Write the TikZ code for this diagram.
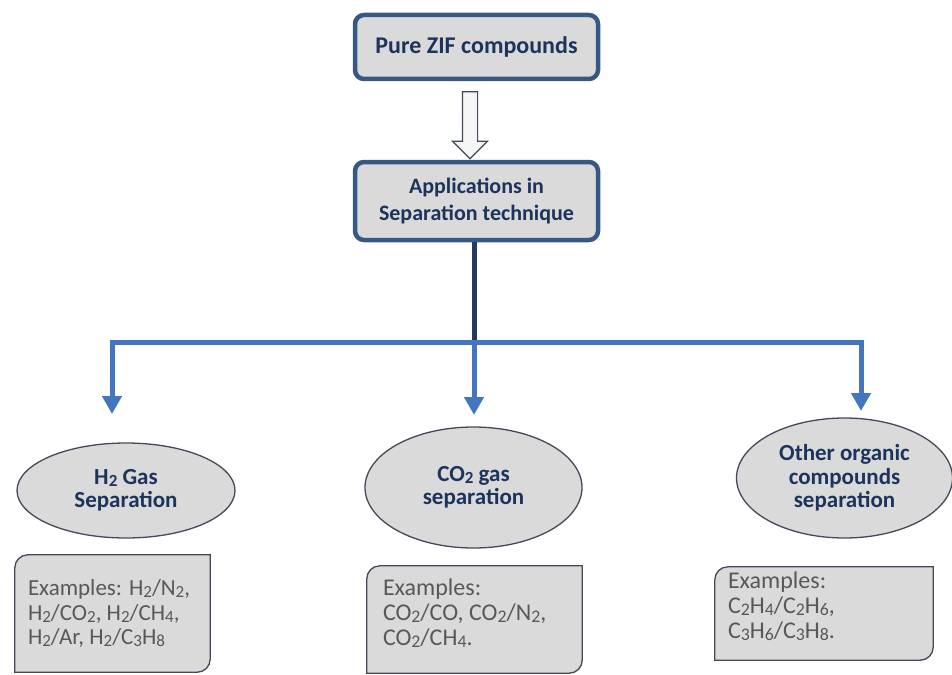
\documentclass[tikz,border=0pt]{standalone}
\usepackage{fontspec}
\setmainfont{Carlito}
\usetikzlibrary{arrows.meta,shapes.geometric,shapes.arrows}
\definecolor{boxline}{RGB}{56,88,132}
\definecolor{boxfill}{RGB}{218,218,218}
\definecolor{headtext}{RGB}{28,52,92}
\definecolor{linkblue}{RGB}{68,118,192}
\definecolor{stubnavy}{RGB}{34,58,96}
\definecolor{ovalline}{RGB}{66,74,88}
\definecolor{extext}{RGB}{88,88,88}
\newcommand{\ssb}[1]{\raisebox{-0.08em}{\scalebox{0.74}{#1}}}
\begin{document}
\begin{tikzpicture}[x=1pt,y=-1pt]
      \tikzset{mainbox/.style={draw=boxline, line width=4.5pt, fill=boxfill, rounded corners=9pt, align=center, text=headtext, font=\fontsize{22}{27}\selectfont\bfseries},
               oval/.style={ellipse, draw=ovalline, line width=1.3pt, fill=boxfill, align=center, text=headtext, inner sep=0pt, font=\fontsize{23}{23.5}\selectfont\bfseries},
               exframe/.style={draw=ovalline, line width=1.3pt, fill=boxfill},
               exlabel/.style={align=left, text=extext, inner sep=0pt, font=\fontsize{24}{25}\selectfont},
               link/.style={draw=linkblue, line width=5pt},
               linkarrow/.style={link, -{Triangle[width=19pt,length=18pt]}}}
      \useasboundingbox (0,0) rectangle (952,674);
%% Top of the chart
      	\node[mainbox, minimum width=243pt, minimum height=64pt, font=\fontsize{24}{27}\selectfont\bfseries] (pure) at (476.5,47) {Pure ZIF compounds};
      	\node[mainbox, minimum width=243pt, minimum height=78pt] (apps) at (476.5,201) {Applications in\\Separation technique};
      	\node[single arrow, draw=ovalline, line width=1.2pt, fill=gray!8, shape border rotate=270, minimum height=67pt, single arrow head extend=10pt, single arrow tip angle=90, inner sep=7pt] (down) at (470,121.5) {};
%% Branches
      	\coordinate (jc) at (474,342);
      	\coordinate (jl) at (112,342);
      	\coordinate (jr) at (861,342);
      	\coordinate (tl) at (112,414);
      	\coordinate (tc) at (474,415);
      	\coordinate (tr) at (861,411);
%% Ovals
      	\node[oval, minimum width=218pt, minimum height=95pt] (h2) at (126,490.5) {H\ssb{2} Gas\\Separation};
      	\node[oval, minimum width=217pt, minimum height=121pt] (co2) at (473.5,487.5) {CO\ssb{2} gas\\separation};
      	\node[oval, minimum width=216pt, minimum height=120pt] (other) at (844.5,478) {Other organic\\compounds\\separation};
%% Example boxes
      	\node[minimum width=195pt, minimum height=117pt, inner sep=0pt] (ex1) at (112.5,613.5) {};
      	\node[minimum width=215pt, minimum height=107pt, inner sep=0pt] (ex2) at (474.5,619.5) {};
      	\node[minimum width=218pt, minimum height=93pt, inner sep=0pt] (ex3) at (824,613.5) {};
      	\foreach \b in {ex1,ex2,ex3}
      		\filldraw[exframe] (\b.south west) [rounded corners=13pt] -- (\b.north west) [sharp corners] -- (\b.north east) [rounded corners=13pt] -- (\b.south east) [sharp corners] -- cycle;
      	\node[exlabel, anchor=north west, font=\fontsize{23}{24.5}\selectfont] (ex1t) at ([xshift=13pt,yshift=-25pt]ex1.north west) {Examples: H\ssb{2}/N\ssb{2},\\H\ssb{2}/CO\ssb{2}, H\ssb{2}/CH\ssb{4},\\H\ssb{2}/Ar, H\ssb{2}/C\ssb{3}H\ssb{8}};
      	\node[exlabel, anchor=north west] (ex2t) at ([xshift=16pt,yshift=-13pt]ex2.north west) {Examples:\\CO\ssb{2}/CO, CO\ssb{2}/N\ssb{2},\\CO\ssb{2}/CH\ssb{4}.};
      	\node[exlabel, anchor=north west] (ex3t) at ([xshift=13pt,yshift=-5pt]ex3.north west) {Examples:\\C\ssb{2}H\ssb{4}/C\ssb{2}H\ssb{6},\\C\ssb{3}H\ssb{6}/C\ssb{3}H\ssb{8}.};
%Connectors
		\draw[draw=stubnavy, line width=5pt] (apps.south -| jc) -- (jc);
		\draw[link, line cap=rect] (jl) -- (jr);
		\draw[linkarrow] (jl) -- (tl);
		\draw[linkarrow] (jc) -- (tc);
		\draw[linkarrow] (jr) -- (tr);
	\end{tikzpicture}
\end{document}
